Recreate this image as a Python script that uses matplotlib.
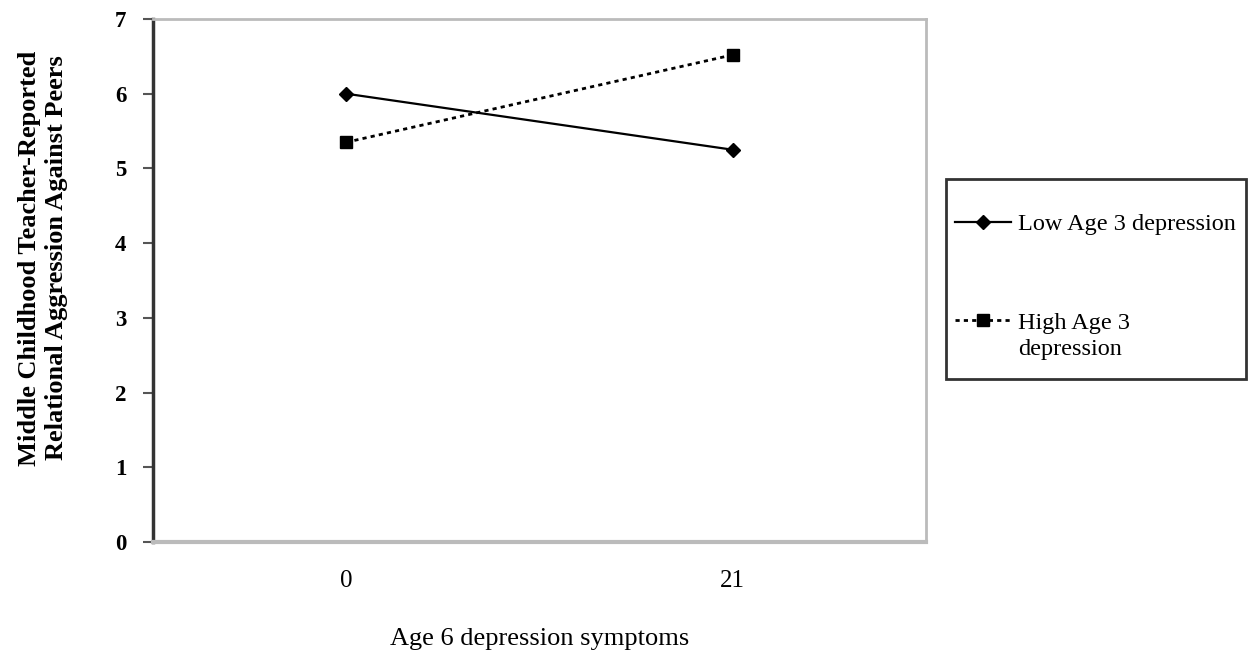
import matplotlib
matplotlib.use('Agg')
import matplotlib.pyplot as plt
import numpy as np
from matplotlib.patches import Rectangle
from matplotlib.legend_handler import HandlerLine2D

cats = ['0', '21']
low_dep = [6.0, 5.25]
high_dep = [5.35, 6.52]
series_names = ['Low Age 3 depression', 'High Age 3\ndepression']

plt.rcParams['font.family'] = ['Liberation Serif', 'DejaVu Serif']


class TopLineHandler(HandlerLine2D):
    # put the legend key next to the first line of a two-line label
    def __init__(self, shift=0, **kw):
        super().__init__(**kw)
        self.shift = shift

    def create_artists(self, legend, orig_handle, xdescent, ydescent, width,
                       height, fontsize, trans):
        arts = super().create_artists(legend, orig_handle, xdescent, ydescent,
                                      width, height, fontsize, trans)
        for a in arts:
            a.set_ydata(np.asarray(a.get_ydata()) + self.shift)
        return arts


fig = plt.figure(figsize=(12.49, 6.54), dpi=100)
ax = fig.add_axes([153/1249, 1-542/654, (926-153)/1249, (542-19)/654])

x = list(range(len(cats)))
l1, = ax.plot(x, low_dep, color='black', lw=1.6, marker='D', ms=7, label=series_names[0])
l2, = ax.plot(x, high_dep, color='black', lw=2, ls=(0, (1.5, 1.5)), marker='s', ms=9,
              label=series_names[1])

ax.set_xlim(-0.5, 1.5)
ax.set_ylim(0, 7)
ax.set_yticks(range(8))
ax.set_yticklabels([str(i) for i in range(8)], fontsize=16.5, fontweight='bold')
ax.set_xticks(x)
ax.set_xticklabels(cats, fontsize=18)
ax.tick_params(axis='x', length=0, pad=20)
ax.tick_params(axis='y', length=7, width=1.5, color='#555555', pad=12, direction='out')

for s in ['top', 'right', 'bottom']:
    ax.spines[s].set_color('#bbbbbb')
ax.spines['top'].set_linewidth(2)
ax.spines['right'].set_linewidth(2)
ax.spines['bottom'].set_linewidth(3)
ax.spines['left'].set_color('#333333')
ax.spines['left'].set_linewidth(2.5)

fig.text(43/1249, 1-258/654,
         'Middle Childhood Teacher-Reported\nRelational Aggression Against Peers',
         rotation=90, ha='center', va='center', fontsize=19, fontweight='bold',
         linespacing=1.22, multialignment='center')
ax.set_xlabel('Age 6 depression symptoms', fontsize=19, labelpad=26)

# legend box
fig.patches.append(Rectangle((946/1249, 1-379/654), (1246-946)/1249, (379-179)/654,
                             transform=fig.transFigure, fill=False,
                             edgecolor='#333333', lw=2))
leg = fig.legend(handles=[l1, l2], loc='upper left',
                 bbox_to_anchor=(955/1249, 1-213/654),
                 fontsize=17.5, frameon=False, labelspacing=3.2, borderpad=0,
                 handlelength=2.3, handletextpad=0.3, borderaxespad=0,
                 handler_map={l2: TopLineHandler(shift=11.5)})
for t in leg.get_texts():
    t.set_linespacing(1.35)

fig.savefig('out.png', dpi=100)
